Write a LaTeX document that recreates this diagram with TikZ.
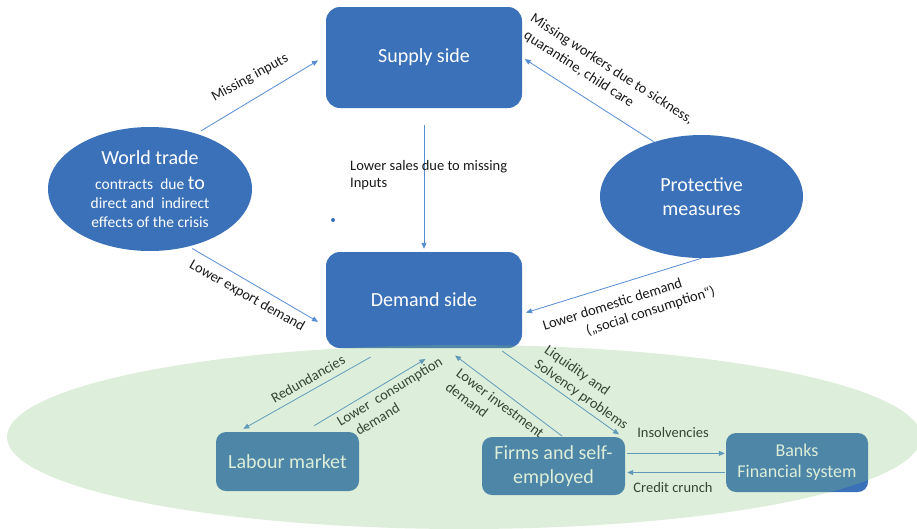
\documentclass[tikz,border=0pt]{standalone}
\usepackage{fontspec}
\setmainfont{Carlito}
\usetikzlibrary{shapes.geometric,arrows.meta}

\definecolor{boxblue}{RGB}{59,113,184}
\definecolor{linkblue}{RGB}{86,140,210}
\definecolor{zonegreen}{RGB}{129,192,118}

\tikzset{
  sidebox/.style={fill=boxblue, rounded corners=14pt, text=white, align=center,
    inner sep=0pt, font=\fontsize{20}{24}\selectfont},
  causebox/.style={ellipse, fill=boxblue, text=white, align=center, inner sep=0pt,
    font=\fontsize{20}{24}\selectfont},
  lbl/.style={inner sep=0pt, font=\fontsize{14.5}{17.5}\selectfont, text=black!90},
  link/.style={draw=linkblue, line width=0.8pt, -{Triangle[length=6pt,width=5pt]}},
}

\begin{document}
\begin{tikzpicture}[x=1pt,y=-1pt]
\useasboundingbox (0,0) rectangle (917,528);
\clip (0,0) rectangle (917,528);

% Boites
\node[sidebox, minimum width=196pt, minimum height=101pt] (supply) at (424,57.5) {Supply side};
\node[sidebox, minimum width=196pt, minimum height=96pt] (demand) at (424,300) {Demand side};
\node[sidebox, rounded corners=10pt, minimum width=143pt, minimum height=59pt] (labour) at (287.5,461.5) {Labour market};
\node[sidebox, rounded corners=10pt, minimum width=143pt, minimum height=58pt] (firms) at (553.5,466) {Firms and self-\\employed};
\node[sidebox, rounded corners=10pt, minimum width=142pt, minimum height=59pt,
  font=\fontsize{18}{21}\selectfont] (banks) at (797,462.5) {Banks\\Financial system};

% Ellipses
\node[causebox, minimum width=204pt, minimum height=124pt, font=\fontsize{15.5}{19}\selectfont] (world) at (150,189)
  {{\fontsize{20}{24}\selectfont World trade}\\[6pt]contracts\ \ due {\fontsize{20}{19}\selectfont to}\\direct and\ \ indirect\\effects of the crisis};
\node[causebox, minimum width=203pt, minimum height=123pt] (prot) at (701.5,196.5) {Protective\\measures};

% Point
\fill[boxblue] (333,220) circle (2);

% Fleches
\draw[link, shorten <=5pt, shorten >=9pt] (world.50) -- (supply.179);
\draw[link, shorten >=3pt] (prot.131) -- (supply.east);
\draw[link, shorten <=17pt, shorten >=3pt] (supply.south) -- (demand.north);
\draw[link, shorten <=4pt, shorten >=9pt] (world.304) -- (demand.195);
\draw[link, shorten >=4pt] (prot.south) -- (demand.352);
\draw[link, shorten <=18pt, shorten >=6pt] (demand.232) -- (labour.149);
\draw[link, shorten <=12pt, shorten >=21pt] (labour.61) -- (demand.292);
\draw[link, shorten <=1pt, shorten >=12pt] (firms.72) -- (demand.294);
\draw[link, shorten <=5pt, shorten >=4pt] (demand.327) -- (firms.23);
\draw[link, shorten <=2pt, shorten >=1pt] (firms.10) -- (firms.10 -| banks.west);
\draw[link, shorten <=1pt, shorten >=2pt] (banks.188) -- (banks.188 -| firms.east);

% Annotations
\node[lbl, rotate=28.5] (mi) at (250,78) {Missing inputs};
\node[lbl, rotate=-33, anchor=north west, align=left, font=\fontsize{14.5}{18}\selectfont] (mw) at (535,12)
  {Missing workers due to sickness,\\\hspace*{4pt}quarantine, child care};
\node[lbl, anchor=north west, align=left] (ls) at (350,160) {Lower sales due to missing\\Inputs};
\node[lbl, rotate=-29.5] (led) at (247,296) {Lower export demand};
\node[lbl, rotate=17.5, align=left] (ldd) at (629,309)
  {Lower domestic demand\\\hspace*{40pt}(„social consumption“)};
\node[lbl, rotate=29.6] (red) at (308,379) {Redundancies};
\node[lbl, rotate=31, align=left] (lcd) at (394,399) {Lower\ \ consumption\\\hspace*{11pt}demand};
\node[lbl, rotate=-37, align=left] (lid) at (495,410) {Lower investment\\demand};
\node[lbl, rotate=-35, align=left] (lsp) at (586,388) {Liquidity and\\Solvency problems};
\node[lbl] (ins) at (673,433) {Insolvencies};
\node[lbl] (cc) at (673,488) {Credit crunch};

% Zone verte
\fill[zonegreen, fill opacity=0.27] (464,437) ellipse [x radius=457pt, y radius=92pt];

\end{tikzpicture}
\end{document}
